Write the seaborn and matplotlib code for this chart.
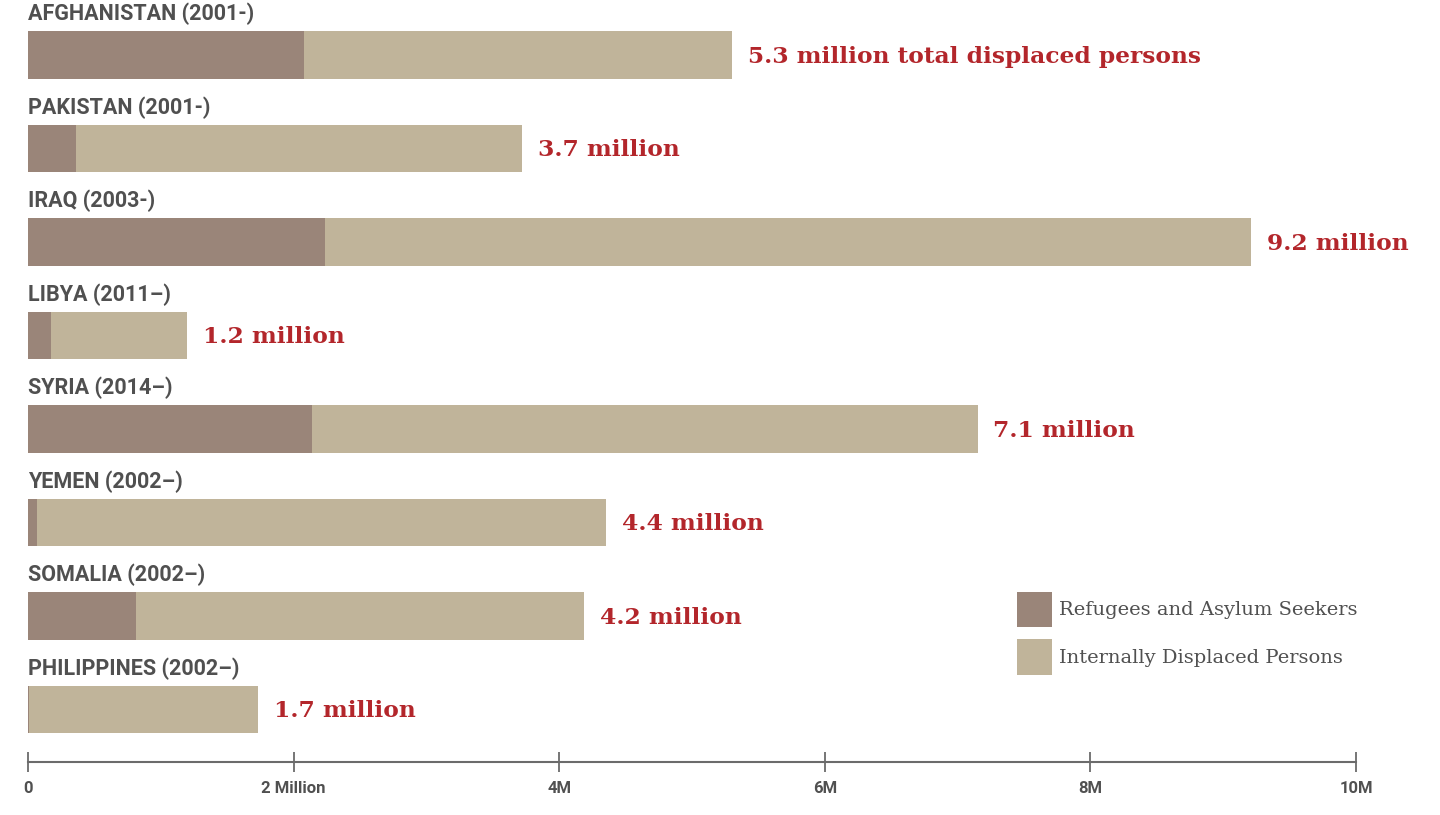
import matplotlib
matplotlib.use("Agg")
import matplotlib.pyplot as plt
import seaborn as sns
import pandas as pd
from matplotlib.patches import Patch

countries = ["AFGHANISTAN (2001-)", "PAKISTAN (2001-)", "IRAQ (2003-)", "LIBYA (2011\u2013)",
             "SYRIA (2014\u2013)", "YEMEN (2002\u2013)", "SOMALIA (2002\u2013)", "PHILIPPINES (2002\u2013)"]
refugees = [2.08, 0.36, 2.24, 0.17, 2.14, 0.07, 0.81, 0.01]   # millions
totals = [5.3, 3.72, 9.21, 1.2, 7.15, 4.35, 4.19, 1.73]        # millions
total_labels = ["5.3 million total displaced persons", "3.7 million", "9.2 million", "1.2 million",
                "7.1 million", "4.4 million", "4.2 million", "1.7 million"]
tick_values = [0, 2, 4, 6, 8, 10]
tick_labels = ["0", "2 Million", "4M", "6M", "8M", "10M"]
legend_labels = ["Refugees and Asylum Seekers", "Internally Displaced Persons"]

C_REF = "#9a8579"
C_IDP = "#c0b49a"
C_RED = "#b3262b"
C_GRAY = "#505050"

sns.set_theme(style="white")
plt.rcParams["font.family"] = ["Roboto", "DejaVu Sans"]

df = pd.DataFrame({"country": countries, "refugees": refugees, "total": totals})

fig = plt.figure(figsize=(14.4, 8.15), dpi=100)
W, H = 1440, 815
x0, x1 = 28, 1356
y_top, y_axis = 0, 762
ax = fig.add_axes([x0 / W, 1 - y_axis / H, (x1 - x0) / W, (y_axis - y_top) / H])

sns.barplot(data=df, x="total", y="country", orient="h", color=C_IDP, width=0.51,
            saturation=1, ax=ax, errorbar=None, linewidth=0, edgecolor="none")
sns.barplot(data=df, x="refugees", y="country", orient="h", color=C_REF, width=0.51,
            saturation=1, ax=ax, errorbar=None, linewidth=0, edgecolor="none")

row_px = 93.5
first_center = 55
ax.set_ylim((y_axis - first_center) / row_px, (y_top - first_center) / row_px)
ax.set_xlim(0, 10)

for i, (c, t, lab) in enumerate(zip(countries, totals, total_labels)):
    ax.text(0, i - 0.44, c, ha="left", va="center", fontsize=15.5, fontweight="bold",
            color=C_GRAY, family=["Roboto", "DejaVu Sans"])
    ax.text(t + 0.12, i + 0.02, lab, ha="left", va="center", fontsize=16.8, fontweight="bold",
            color=C_RED, family=["DejaVu Serif"])

ax.set_ylabel("")
ax.set_xlabel("")
ax.set_yticks([])
ax.set_xticks(tick_values)
ax.set_xticklabels(tick_labels)
for s in ["top", "right", "left"]:
    ax.spines[s].set_visible(False)
ax.spines["bottom"].set_color("#6b6b6b")
ax.spines["bottom"].set_linewidth(1.5)
ax.tick_params(axis="x", bottom=True, direction="inout", length=15, width=1.3, color="#6b6b6b",
               labelsize=12, labelcolor=C_GRAY, pad=6)
for t in ax.get_xticklabels():
    t.set_fontweight("bold")
ax.set_facecolor("white")

handles = [Patch(facecolor=C_REF, edgecolor="none"), Patch(facecolor=C_IDP, edgecolor="none")]
leg = fig.legend(handles, legend_labels, loc="upper left",
                 bbox_to_anchor=(999 / W, 1 - 574 / H), frameon=False,
                 handlelength=1.8, handleheight=2.45, handletextpad=0.4, labelspacing=0.6,
                 prop={"family": "DejaVu Serif", "size": 14})
for t in leg.get_texts():
    t.set_color(C_GRAY)

fig.savefig("out.png", dpi=100, facecolor="white")
